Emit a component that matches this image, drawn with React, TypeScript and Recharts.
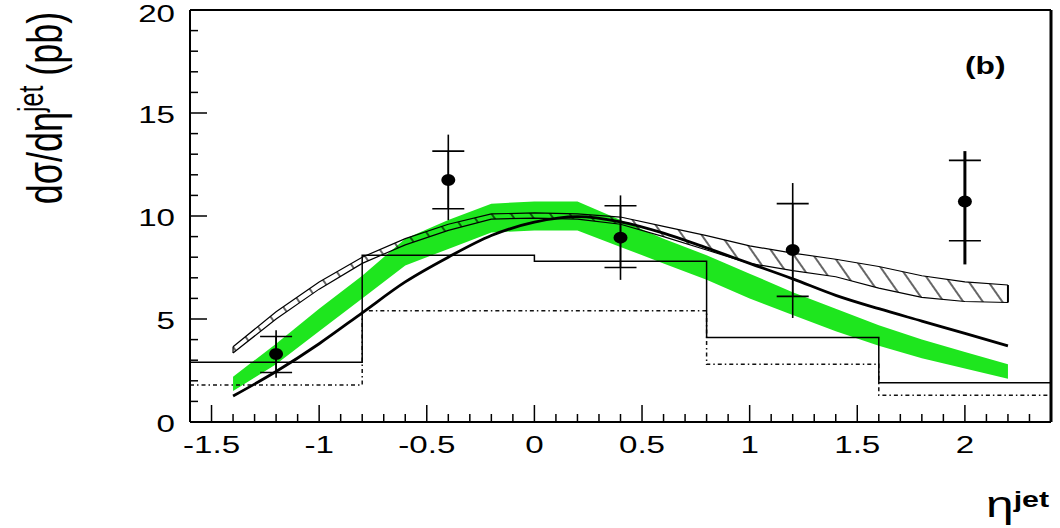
import {
  ComposedChart,
  Area,
  Line,
  Scatter,
  ErrorBar,
  XAxis,
  YAxis,
  ReferenceLine,
  Customized,
} from 'recharts';

// theory curves sampled in eta
const etaGrid = [-1.4, -1.2, -1.0, -0.8, -0.6, -0.4, -0.2, 0, 0.2, 0.4, 0.6, 0.8, 1.0, 1.2, 1.4, 1.6, 1.8, 2.0, 2.2];
const greenLow = [1.5, 2.8, 4.4, 6.0, 7.6, 8.4, 9.2, 9.3, 9.3, 8.5, 7.7, 6.9, 6.0, 5.2, 4.4, 3.7, 3.1, 2.6, 2.1];
const greenHigh = [2.2, 3.8, 5.5, 7.1, 8.9, 9.8, 10.6, 10.7, 10.7, 9.8, 8.9, 8.1, 7.2, 6.3, 5.5, 4.7, 4.0, 3.4, 2.8];
const hatchLow = [3.35, 5.0, 6.45, 7.7, 8.6, 9.3, 9.85, 9.9, 9.85, 9.6, 9.0, 8.35, 7.7, 7.35, 7.05, 6.5, 6.05, 5.85, 5.8];
const hatchHigh = [3.65, 5.35, 6.8, 8.0, 8.9, 9.6, 10.1, 10.15, 10.1, 9.95, 9.5, 9.05, 8.55, 8.2, 7.9, 7.55, 7.1, 6.8, 6.65];
const solidCurve = [1.26, 2.45, 3.8, 5.3, 6.8, 8.0, 9.05, 9.7, 9.97, 9.72, 9.17, 8.45, 7.7, 6.95, 6.15, 5.5, 4.9, 4.3, 3.7];

// histograms (bin edges, last value repeated to close the step)
const histEdges = [-1.6, -0.8, 0, 0.8, 1.6, 2.4];
const histSolid = [2.9, 8.1, 7.8, 4.1, 1.9, 1.9];
const dottedEdges = [-1.6, -0.8, 0.8, 1.6, 2.4];
const histDotted = [1.8, 5.4, 2.8, 1.3, 1.3];

// data points
const pointEta = [-1.2, -0.4, 0.4, 1.2, 2.0];
const pointVal = [3.3, 11.75, 8.95, 8.35, 10.7];
const statLo = [2.4, 10.35, 7.5, 6.1, 8.8];
const statHi = [4.15, 13.15, 10.5, 10.6, 12.7];
const totLo = [2.15, 9.8, 6.9, 5.05, 7.65];
const totHi = [4.45, 13.95, 11.0, 11.6, 13.15];

const xMajor = [-1.5, -1, -0.5, 0, 0.5, 1, 1.5, 2];
const yMajor = [0, 5, 10, 15, 20];
const xTicks = Array.from({ length: 41 }, (_, i) => (i - 16) / 10);
const yTicks = Array.from({ length: 21 }, (_, i) => i);

const FONT = '"Liberation Sans", Arial, Helvetica, sans-serif';
const SX = 1.38;

const bandData = etaGrid.map((x, i) => ({
  x,
  green: [greenLow[i], greenHigh[i]],
  hatch: [hatchLow[i], hatchHigh[i]],
  curve: solidCurve[i],
}));
const solidHistData = histEdges.map((x, i) => ({ x, y: histSolid[i] }));
const dottedHistData = dottedEdges.map((x, i) => ({ x, y: histDotted[i] }));
const pointData = pointEta.map((x, i) => ({
  x,
  y: pointVal[i],
  stat: [pointVal[i] - statLo[i], statHi[i] - pointVal[i]],
  tot: [pointVal[i] - totLo[i], totHi[i] - pointVal[i]],
}));
const last = etaGrid.length - 1;

const isMajor = (v: number, list: number[]) => list.some((m) => Math.abs(m - v) < 1e-6);

const BottomTick = ({ x, y, payload }: any) => {
  const major = isMajor(payload.value, xMajor);
  return (
    <g>
      <line x1={x} y1={y} x2={x} y2={y - (major ? 17 : 8)} stroke="#000" strokeWidth={1.5} />
      {major && (
        <text
          transform={`translate(${x},${y + 31}) scale(${SX},1)`}
          textAnchor="middle"
          fontSize={24}
          fontFamily={FONT}
          fill="#000"
        >
          {payload.value}
        </text>
      )}
    </g>
  );
};

const TopTick = ({ x, y, payload }: any) => {
  const major = isMajor(payload.value, xMajor);
  return <line x1={x} y1={y} x2={x} y2={y + (major ? 16 : 8)} stroke="#000" strokeWidth={1.5} />;
};

const LeftTick = ({ x, y, payload }: any) => {
  const major = isMajor(payload.value, yMajor);
  // keep the topmost label fully inside the picture
  const baseline = Math.max(y + 10, 22);
  return (
    <g>
      <line x1={x} y1={y} x2={x + (major ? 17 : 8)} y2={y} stroke="#000" strokeWidth={1.5} />
      {major && (
        <text
          transform={`translate(${x - 15},${baseline}) scale(${SX},1)`}
          textAnchor="end"
          fontSize={24}
          fontFamily={FONT}
          fill="#000"
        >
          {payload.value}
        </text>
      )}
    </g>
  );
};

const RightTick = ({ x, y, payload }: any) => {
  const major = isMajor(payload.value, yMajor);
  return <line x1={x} y1={y} x2={x - (major ? 17 : 8)} y2={y} stroke="#000" strokeWidth={1.5} />;
};

const PointShape = ({ cx, cy }: any) => <ellipse cx={cx} cy={cy} rx={7} ry={6} fill="#000" />;

const Labels = () => (
  <g fontFamily={FONT} fill="#000">
    <text transform={`translate(62,108) scale(${SX},1) rotate(-90)`} textAnchor="middle" fontSize={36}>
      dσ/dη
      <tspan fontSize={25} dy={-14}>jet</tspan>
      <tspan dy={14}> (pb)</tspan>
    </text>
    <text transform={`translate(986,517) scale(${SX},1)`} fontSize={36}>
      η
      <tspan fontSize={22} fontWeight="bold" dy={-10}>jet</tspan>
    </text>
    <text transform={`translate(965,74) scale(${SX},1)`} fontSize={23} fontWeight="bold">
      (b)
    </text>
  </g>
);

export default function App() {
  return (
    <div style={{ position: 'absolute', left: 0, top: 0, width: 1060, height: 528, background: '#fff' }}>
      <ComposedChart width={1060} height={528} margin={{ top: 9, right: 8, bottom: 66, left: 130 }}>
        <defs>
          <pattern id="hatch" patternUnits="userSpaceOnUse" width={16} height={16} patternTransform="rotate(-35)">
            <line x1={8} y1={0} x2={8} y2={16} stroke="#000" strokeWidth={1.2} />
          </pattern>
        </defs>
        <XAxis
          dataKey="x"
          type="number"
          domain={[-1.6, 2.4]}
          ticks={xTicks}
          interval={0}
          height={40}
          tickSize={0}
          tickMargin={0}
          tickLine={false}
          tick={<BottomTick />}
          axisLine={{ stroke: '#000', strokeWidth: 2 }}
        />
        <XAxis
          xAxisId="top"
          orientation="top"
          dataKey="x"
          type="number"
          domain={[-1.6, 2.4]}
          ticks={xTicks}
          interval={0}
          height={1}
          tickSize={0}
          tickMargin={0}
          tickLine={false}
          tick={<TopTick />}
          axisLine={{ stroke: '#000', strokeWidth: 2 }}
        />
        <YAxis
          type="number"
          domain={[0, 20]}
          ticks={yTicks}
          interval={0}
          width={60}
          tickSize={0}
          tickMargin={0}
          tickLine={false}
          tick={<LeftTick />}
          axisLine={{ stroke: '#000', strokeWidth: 2 }}
        />
        <YAxis
          yAxisId="right"
          orientation="right"
          type="number"
          domain={[0, 20]}
          ticks={yTicks}
          interval={0}
          width={1}
          tickSize={0}
          tickMargin={0}
          tickLine={false}
          tick={<RightTick />}
          axisLine={{ stroke: '#000', strokeWidth: 3 }}
        />
        <Area
          data={bandData}
          dataKey="green"
          type="linear"
          fill="#1ee61e"
          fillOpacity={1}
          stroke="none"
          isAnimationActive={false}
        />
        <Area
          data={bandData}
          dataKey="hatch"
          type="linear"
          fill="url(#hatch)"
          fillOpacity={1}
          stroke="#000"
          strokeWidth={1.2}
          isAnimationActive={false}
        />
        <ReferenceLine
          segment={[{ x: etaGrid[0], y: hatchLow[0] }, { x: etaGrid[0], y: hatchHigh[0] }]}
          stroke="#000"
          strokeWidth={1.2}
        />
        <ReferenceLine
          segment={[{ x: etaGrid[last], y: hatchLow[last] }, { x: etaGrid[last], y: hatchHigh[last] }]}
          stroke="#000"
          strokeWidth={2}
        />
        <Line
          data={dottedHistData}
          dataKey="y"
          type="stepAfter"
          stroke="#111"
          strokeWidth={1.5}
          strokeDasharray="4 3 1.5 3"
          dot={false}
          isAnimationActive={false}
        />
        <Line
          data={solidHistData}
          dataKey="y"
          type="stepAfter"
          stroke="#000"
          strokeWidth={1.5}
          dot={false}
          isAnimationActive={false}
        />
        <Line
          data={bandData}
          dataKey="curve"
          type="monotone"
          stroke="#000"
          strokeWidth={2.8}
          dot={false}
          isAnimationActive={false}
        />
        <Scatter data={pointData.slice(0, 4)} dataKey="y" shape={<PointShape />} isAnimationActive={false}>
          <ErrorBar dataKey="tot" direction="y" width={0} stroke="#000" strokeWidth={1.6} />
          <ErrorBar dataKey="stat" direction="y" width={16} stroke="#000" strokeWidth={1.6} />
        </Scatter>
        <Scatter data={pointData.slice(4)} dataKey="y" shape={<PointShape />} isAnimationActive={false}>
          <ErrorBar dataKey="tot" direction="y" width={0} stroke="#000" strokeWidth={3} />
          <ErrorBar dataKey="stat" direction="y" width={16} stroke="#000" strokeWidth={1.6} />
        </Scatter>
        <Customized component={Labels} />
      </ComposedChart>
    </div>
  );
}
